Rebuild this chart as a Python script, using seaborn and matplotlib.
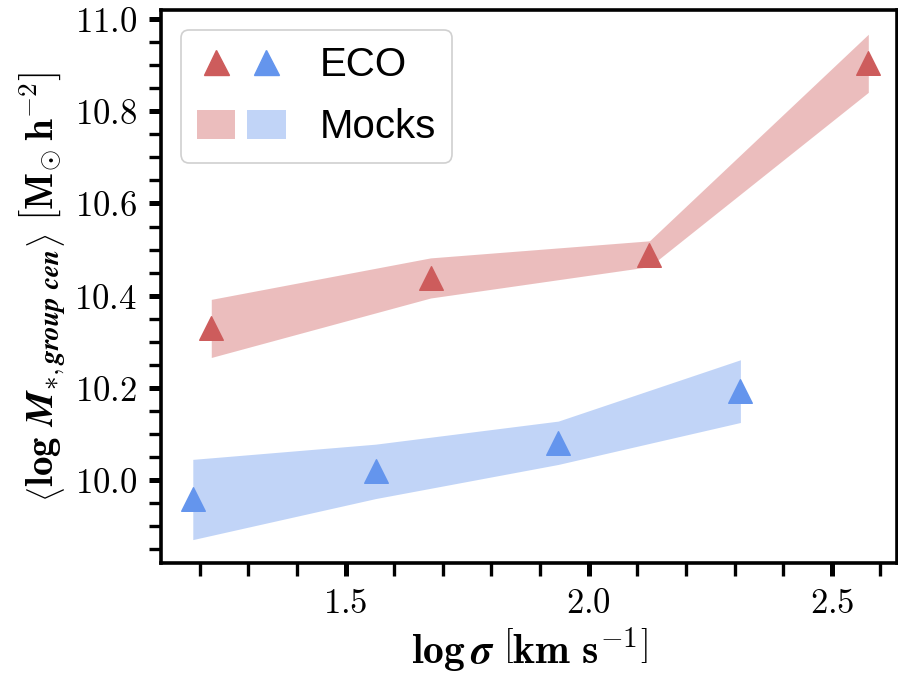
import matplotlib
matplotlib.use("Agg")
import matplotlib.pyplot as plt
import seaborn as sns
import numpy as np
import pandas as pd
from matplotlib.ticker import MultipleLocator, FuncFormatter
from matplotlib.legend_handler import HandlerTuple
from matplotlib.lines import Line2D
from matplotlib.patches import Patch

# ---- data ----
red_x = [1.224, 1.675, 2.125, 2.575]
red_eco = [10.329, 10.438, 10.489, 10.904]
red_mock_lo = [10.266, 10.395, 10.463, 10.841]
red_mock_hi = [10.392, 10.482, 10.519, 10.967]

blue_x = [1.186, 1.562, 1.9375, 2.312]
blue_eco = [9.958, 10.019, 10.080, 10.193]
blue_mock_lo = [9.871, 9.960, 10.034, 10.125]
blue_mock_hi = [10.045, 10.078, 10.128, 10.261]

legend_labels = ["ECO", "Mocks"]

RED = "indianred"
BLUE = "cornflowerblue"

sns.set_style("ticks")
plt.rcParams["mathtext.fontset"] = "cm"
plt.rcParams["font.family"] = ["Liberation Sans", "DejaVu Sans"]
plt.rcParams["text.color"] = "black"
plt.rcParams["axes.labelcolor"] = "black"
plt.rcParams["xtick.color"] = "black"
plt.rcParams["ytick.color"] = "black"

fig = plt.figure(figsize=(8.98, 6.81), dpi=100)
ax = fig.add_axes([160.7 / 898, (681 - 563.3) / 681, (897 - 160.7) / 898, (563.3 - 10) / 681])

ax.fill_between(red_x, red_mock_lo, red_mock_hi, color=RED, alpha=0.4, linewidth=0)
ax.fill_between(blue_x, blue_mock_lo, blue_mock_hi, color=BLUE, alpha=0.4, linewidth=0)

df_r = pd.DataFrame({"x": red_x, "y": red_eco})
df_b = pd.DataFrame({"x": blue_x, "y": blue_eco})
sns.scatterplot(data=df_r, x="x", y="y", marker="^", s=17 ** 2, color=RED,
                edgecolor=RED, linewidth=1, ax=ax, zorder=5)
sns.scatterplot(data=df_b, x="x", y="y", marker="^", s=17 ** 2, color=BLUE,
                edgecolor=BLUE, linewidth=1, ax=ax, zorder=5)

ax.set_xlim(1.12, 2.634)
ax.set_ylim(9.8196, 11.0196)

ax.xaxis.set_major_locator(MultipleLocator(0.5))
ax.xaxis.set_minor_locator(MultipleLocator(0.1))
ax.yaxis.set_major_locator(MultipleLocator(0.2))
ax.yaxis.set_minor_locator(MultipleLocator(0.05))
fmt = FuncFormatter(lambda v, p: r"$%.1f$" % v)
ax.xaxis.set_major_formatter(fmt)
ax.yaxis.set_major_formatter(fmt)

ax.tick_params(axis="both", which="major", direction="out", length=9, width=3.6,
               labelsize=25, pad=8, color="black", labelcolor="black")
ax.tick_params(axis="both", which="minor", direction="out", length=9, width=2.4, color="black")
ax.tick_params(top=False, right=False, which="both")
for sp in ax.spines.values():
    sp.set_linewidth(2.6)
    sp.set_color("black")

ax.set_xlabel(r"$\mathbf{log}\,\boldsymbol{\sigma}\ \left[\mathbf{km\ s^{-1}}\right]$",
              fontsize=30, labelpad=4, color="black")
ax.set_ylabel(r"$\left\langle\mathbf{log}\ \boldsymbol{M}_{\boldsymbol{*,group\ cen}}\right\rangle\ \left[\mathbf{M}_{\odot}\,\mathbf{h^{-2}}\right]$",
              fontsize=28, labelpad=4, color="black")

h_eco = (Line2D([], [], marker="^", ls="none", color=RED, markersize=18),
         Line2D([], [], marker="^", ls="none", color=BLUE, markersize=18))
h_mock = (Patch(facecolor=RED, alpha=0.4, linewidth=0),
          Patch(facecolor=BLUE, alpha=0.4, linewidth=0))
leg = ax.legend([h_eco, h_mock], legend_labels,
                handler_map={tuple: HandlerTuple(ndivide=None, pad=0.3)},
                loc="upper left", fontsize=29, handlelength=2.2, handleheight=0.75,
                handletextpad=0.85, labelspacing=0.6, borderpad=0.4,
                frameon=True, fancybox=True, framealpha=1, edgecolor="#d0d0d0",
                bbox_to_anchor=(0.0, 1.0), borderaxespad=0.5, labelcolor="black")
leg.get_frame().set_linewidth(1.2)

fig.savefig("out.png", dpi=100)
